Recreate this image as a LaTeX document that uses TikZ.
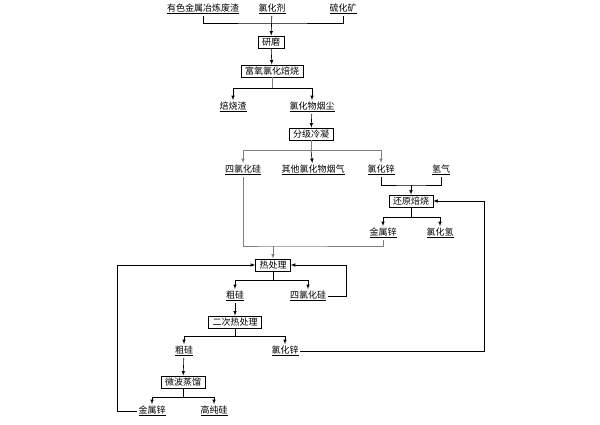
\documentclass[tikz,border=0pt]{standalone}
\usepackage{fontspec}
\setmainfont{Noto Sans CJK SC}
\tikzset{
  stepbox/.style={draw,thin,inner xsep=4pt,inner ysep=2pt,font=\fontsize{9}{10}\selectfont},
  prod/.style={inner sep=1.5pt,font=\fontsize{9}{10}\selectfont},
  link/.style={line width=0.6pt},
  glink/.style={line width=0.6pt,gray}
}
\begin{document}
\begin{tikzpicture}[x=1pt,y=-1pt,>=latex]
	\useasboundingbox (0,0) rectangle (600,424);
	% raw materials
	\node[prod] (slag) at (203,9) {\underline{有色金属冶炼废渣}};
	\node[prod] (agent) at (272,9) {\underline{氯化剂}};
	\node[prod] (ore) at (343,9) {\underline{硫化矿}};
	\node[stepbox] (grind) at (271,42) {研磨};
	\node[stepbox] (roast) at (272,71) {富氧氯化焙烧};
	\node[prod] (cinder) at (233,107) {\underline{焙烧渣}};
	\node[prod] (dust) at (312,107) {\underline{氯化物烟尘}};
	\node[stepbox] (cond) at (311,134) {分级冷凝};
	\node[prod] (sicl) at (243,170) {\underline{四氯化硅}};
	\node[prod] (gas) at (313,170) {\underline{其他氯化物烟气}};
	\node[prod] (zncl) at (381,170) {\underline{氯化锌}};
	\node[prod] (htwo) at (441,170) {\underline{氢气}};
	\node[stepbox] (reduce) at (411,201) {还原焙烧};
	\node[prod] (zn) at (383,233) {\underline{金属锌}};
	\node[prod] (hcl) at (440,233) {\underline{氯化氢}};
	\node[stepbox] (heat) at (273,265) {热处理};
	\node[prod] (si) at (235,296) {\underline{粗硅}};
	\node[prod] (siclb) at (308,296) {\underline{四氯化硅}};
	\node[stepbox] (heatb) at (235,322) {二次热处理};
	\node[prod] (sib) at (184,351) {\underline{粗硅}};
	\node[prod] (znclb) at (285,351) {\underline{氯化锌}};
	\node[stepbox] (micro) at (183,382) {微波蒸馏};
	\node[prod] (znb) at (152,411) {\underline{金属锌}};
	\node[prod] (pure) at (214,411) {\underline{高纯硅}};
	% junctions
	\coordinate (t1) at (272,23);
	\coordinate (r1) at (272,88);
	\coordinate (c1) at (311,150);
	\coordinate (z1) at (411,185);
	\coordinate (d1) at (411,217);
	\coordinate (m1) at (273,246);
	\coordinate (h1) at (273,280);
	\coordinate (h2) at (235,336);
	\coordinate (w1) at (183,397);
	\coordinate (lx) at (117,0);
	\coordinate (rx) at (346,0);
	\coordinate (rz) at (484,0);
	% connectors
	\draw[link] (slag) |- (t1) -| (ore);
	\draw[link,->] (agent) -- (grind);
	\draw[link,->] (grind) -- (roast);
	\draw[glink] (roast) -- (r1);
	\draw[link,->] (r1) -| (cinder);
	\draw[link,->] (r1) -| (dust);
	\draw[link,->] (dust) -- (cond);
	\draw[glink] (cond) -- (c1);
	\draw[glink,->] (c1) -| (sicl);
	\draw[link,->] (c1) -- (gas);
	\draw[glink,->] (c1) -| (zncl);
	\draw[link] (zncl) |- (z1) -| (htwo);
	\draw[link,->] (z1) -- (reduce);
	\draw[link] (reduce) -- (d1);
	\draw[link,->] (d1) -| (zn);
	\draw[link,->] (d1) -| (hcl);
	\draw[glink] (sicl) |- (m1) -| (zn);
	\draw[glink,->] (m1) -- (heat);
	\draw[link] (heat) -- (h1);
	\draw[link,->] (h1) -| (si);
	\draw[link,->] (h1) -| (siclb);
	\draw[link,->] (si) -- (heatb);
	\draw[link] (heatb) -- (h2);
	\draw[link,->] (h2) -| (sib);
	\draw[link,->] (h2) -| (znclb);
	\draw[link,->] (sib) -- (micro);
	\draw[link] (micro) -- (w1);
	\draw[link,->] (w1) -| (znb);
	\draw[link,->] (w1) -| (pure);
	% recycle loops
	\draw[link,->] (znb.west) -- (znb.west -| lx) |- (heat.west);
	\draw[link,->] (siclb.east) -- (siclb.east -| rx) |- (heat.east);
	\draw[link,->] (znclb.east) -- (znclb.east -| rz) |- (reduce.east);
\end{tikzpicture}
\end{document}
